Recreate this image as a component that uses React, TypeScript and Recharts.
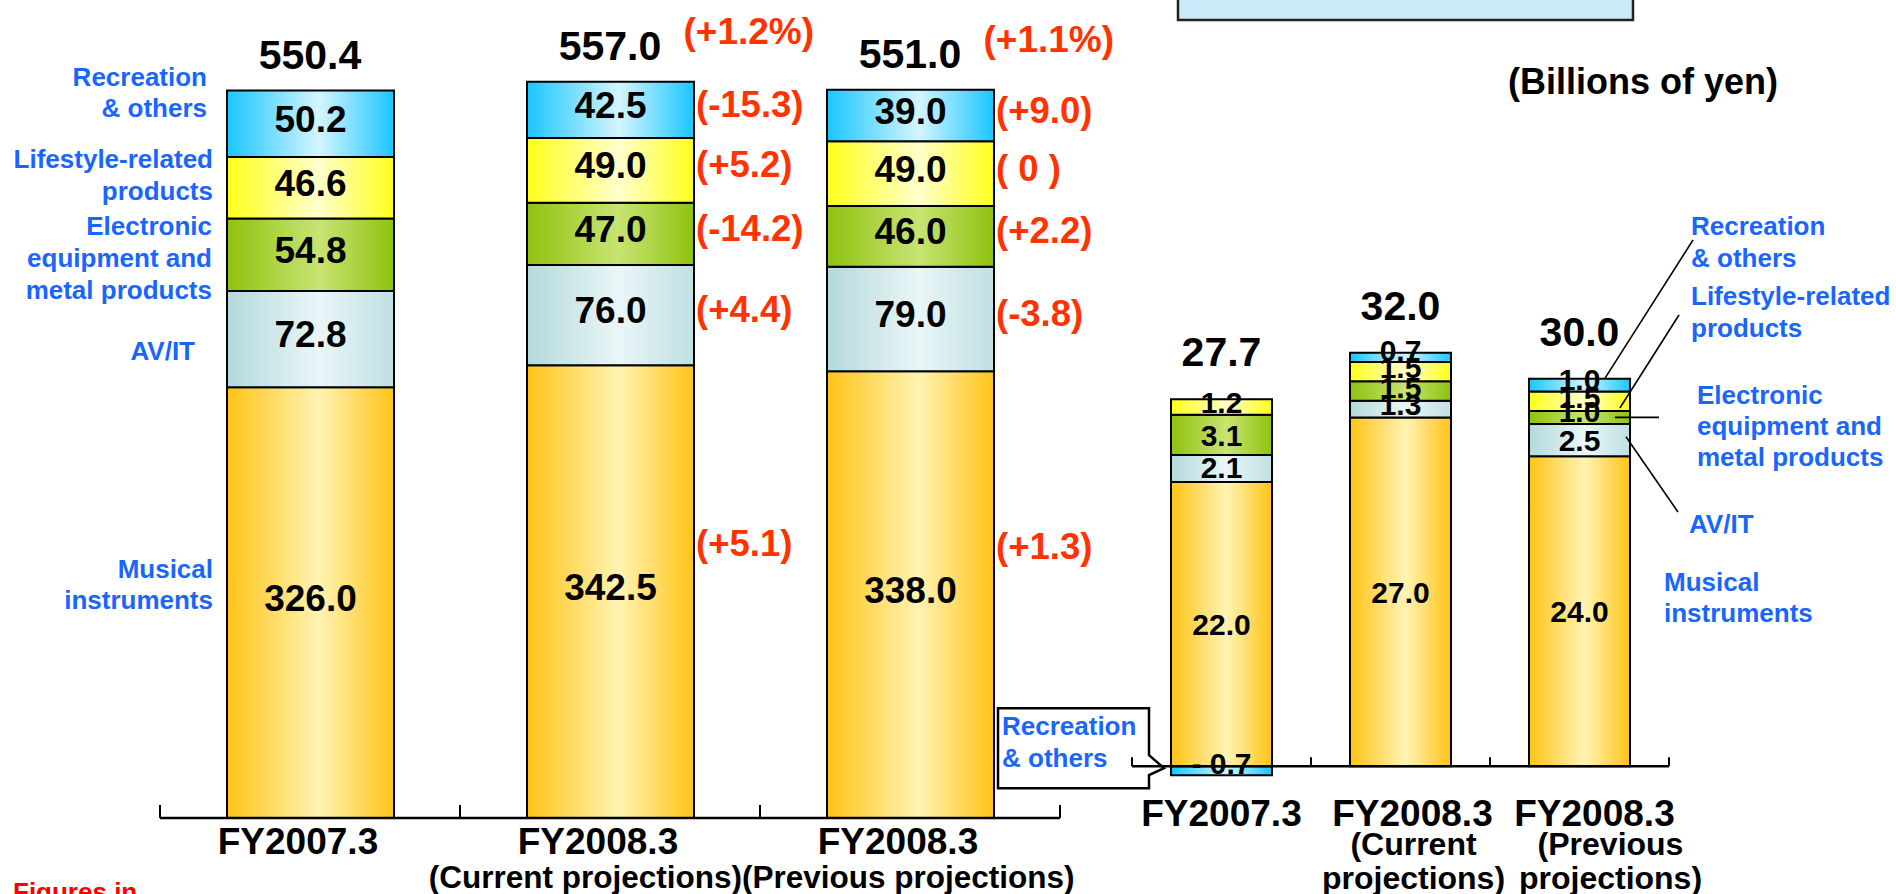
import React from "react";
import { ComposedChart, Bar, Line, XAxis, YAxis, LabelList, ReferenceLine } from "recharts";

// ---- Net sales by segment (left chart), billions of yen ----
const salesCategories = ["FY2007.3", "FY2008.3", "FY2008.3"];
const salesSubLabels = ["", "(Current projections)", "(Previous projections)"];
const salesMusical = [326.0, 342.5, 338.0];
const salesAvIt = [72.8, 76.0, 79.0];
const salesElectronic = [54.8, 47.0, 46.0];
const salesLifestyle = [46.6, 49.0, 49.0];
const salesRecreation = [50.2, 42.5, 39.0];
const salesTotal = [550.4, 557.0, 551.0];
const salesTotalChange = ["", "(+1.2%)", "(+1.1%)"];
const changeMusical = ["", "(+5.1)", "(+1.3)"];
const changeAvIt = ["", "(+4.4)", "(-3.8)"];
const changeElectronic = ["", "(-14.2)", "(+2.2)"];
const changeLifestyle = ["", "(+5.2)", "( 0 )"];
const changeRecreation = ["", "(-15.3)", "(+9.0)"];

// ---- Operating income by segment (right chart) ----
const incomeCategories = ["FY2007.3", "FY2008.3", "FY2008.3"];
const incomeSubLine1 = ["", "(Current", "(Previous"];
const incomeSubLine2 = ["", "projections)", "projections)"];
const incomeMusical = [22.0, 27.0, 24.0];
const incomeAvIt = [2.1, 1.3, 2.5];
const incomeElectronic = [3.1, 1.5, 1.0];
const incomeLifestyle = [1.2, 1.5, 1.5];
const incomeRecreation = [-0.7, 0.7, 1.0];
const incomeTotal = [27.7, 32.0, 30.0];

const FONT = "'Liberation Sans', Arial, Helvetica, sans-serif";
const BLUE = "#1966ff";
const RED = "#ff3300";

const SERIES = [
  { key: "musical", chg: "chgMusical", stops: ["#ffc415", "#fff3b4", "#ffc415"] },
  { key: "avit", chg: "chgAvIt", stops: ["#b3d9dc", "#eaf6f7", "#bfe0e3"] },
  { key: "electronic", chg: "chgElectronic", stops: ["#8fc20e", "#c8e473", "#8fc20e"] },
  { key: "lifestyle", chg: "chgLifestyle", stops: ["#ffff1a", "#ffffcc", "#ffff1a"] },
  { key: "recreation", chg: "chgRecreation", stops: ["#19c6ff", "#d4f5ff", "#19c6ff"] },
];

const salesData = salesCategories.map((name, i) => ({
  idx: i,
  name,
  musical: salesMusical[i],
  avit: salesAvIt[i],
  electronic: salesElectronic[i],
  lifestyle: salesLifestyle[i],
  recreation: salesRecreation[i],
  total: salesTotal[i],
  totalChange: salesTotalChange[i],
  chgMusical: changeMusical[i],
  chgAvIt: changeAvIt[i],
  chgElectronic: changeElectronic[i],
  chgLifestyle: changeLifestyle[i],
  chgRecreation: changeRecreation[i],
}));

const incomeData = incomeCategories.map((name, i) => {
  const parts = [incomeMusical[i], incomeAvIt[i], incomeElectronic[i], incomeLifestyle[i], incomeRecreation[i]];
  return {
    idx: i,
    name,
    musical: incomeMusical[i],
    avit: incomeAvIt[i],
    electronic: incomeElectronic[i],
    lifestyle: incomeLifestyle[i],
    recreation: incomeRecreation[i],
    total: incomeTotal[i],
    stackTop: parts.filter((v) => v > 0).reduce((a, b) => a + b, 0),
    annotate: i === incomeCategories.length - 1,
    callout: incomeRecreation[i] < 0,
  };
});

// layout
const L = { width: 1130, height: 894, margin: { top: 25, right: 70, bottom: 36, left: 160 }, axisH: 40, bar: 167 };
const L_AXIS_Y = L.height - L.margin.bottom - L.axisH;
const L_BAND = (L.width - L.margin.left - L.margin.right) / salesCategories.length;

const R = { left: 960, width: 936, height: 894, margin: { top: 327, right: 227, bottom: 62, left: 172 }, axisH: 40, bar: 101, domain: [-2, 34] };
const R_PLOT_H = R.height - R.margin.top - R.margin.bottom - R.axisH;
const R_ZERO = R.margin.top + (R_PLOT_H * R.domain[1]) / (R.domain[1] - R.domain[0]);
const R_BAND = (R.width - R.margin.left - R.margin.right) / incomeCategories.length;
const rightLabelShift = [0, 12, 15];
const rightSubShift = [0, 13, 31];

const box = (p: any) => {
  const vb = p.viewBox || {};
  const x = Number(vb.x ?? p.x);
  const y = Number(vb.y ?? p.y);
  const w = Number(vb.width ?? p.width ?? 0);
  const h = Number(vb.height ?? p.height ?? 0);
  return { x, y: h < 0 ? y + h : y, w, h: Math.abs(h) };
};

const txt = (size: number, fill = "#000") => ({ fontFamily: FONT, fontWeight: 700, fontSize: size, fill });

const gradients = (prefix: string) => (
  <defs>
    {SERIES.map((s) => (
      <linearGradient key={s.key} id={`${prefix}-${s.key}`} x1="0" y1="0" x2="1" y2="0">
        <stop offset="0%" stopColor={s.stops[0]} />
        <stop offset="55%" stopColor={s.stops[1]} />
        <stop offset="100%" stopColor={s.stops[2]} />
      </linearGradient>
    ))}
  </defs>
);

// ---- left chart label renderers ----
const salesValueLabel = (p: any) => {
  const b = box(p);
  return (
    <text x={b.x + b.w / 2} y={b.y + b.h / 2 + 8} textAnchor="middle" {...txt(37)}>
      {Number(p.value).toFixed(1)}
    </text>
  );
};

const salesChangeLabel = (lift: number) => (p: any) => {
  if (!p.value) return null;
  const b = box(p);
  return (
    <text x={b.x + b.w + 2} y={b.y + b.h / 2 + lift} {...txt(36.5, RED)}>
      {p.value}
    </text>
  );
};

const salesTotalLabel = (p: any) => {
  const b = box(p);
  return (
    <text x={b.x} y={b.y - 22} textAnchor="middle" {...txt(41)}>
      {Number(p.value).toFixed(1)}
    </text>
  );
};

const salesTotalChangeLabel = (p: any) => {
  if (!p.value) return null;
  const b = box(p);
  return (
    <text x={b.x + L.bar / 2 - 10} y={b.y - 38} {...txt(37, RED)}>
      {p.value}
    </text>
  );
};

const salesTick = (p: any) => {
  const i = Number(p.payload.value);
  const x = Number(p.x);
  const half = L_BAND / 2;
  const last = i === salesCategories.length - 1;
  return (
    <g>
      <line x1={x - half} y1={L_AXIS_Y - 13} x2={x - half} y2={L_AXIS_Y} stroke="#000" strokeWidth={2} />
      {last && <line x1={x + half} y1={L_AXIS_Y - 13} x2={x + half} y2={L_AXIS_Y} stroke="#000" strokeWidth={2} />}
      <text x={x - 12} y={L_AXIS_Y + 36} textAnchor="middle" {...txt(37)}>
        {salesCategories[i]}
      </text>
      {i === 1 && (
        <text x={x + half - 18} y={L_AXIS_Y + 70} textAnchor="end" {...txt(31.5)}>
          {salesSubLabels[i]}
        </text>
      )}
      {i === 2 && (
        <text x={x - half - 18} y={L_AXIS_Y + 70} textAnchor="start" {...txt(31.5)}>
          {salesSubLabels[i]}
        </text>
      )}
    </g>
  );
};

// ---- right chart label renderers ----
const incomeValueLabel = (p: any) => {
  const b = box(p);
  const v = Number(p.value);
  const t = v < 0 ? `- ${Math.abs(v).toFixed(1)}` : v.toFixed(1);
  return (
    <text x={b.x + b.w / 2} y={b.y + b.h / 2 + Math.min(11, b.h * 0.35)} textAnchor="middle" {...txt(30)}>
      {t}
    </text>
  );
};

const incomeTotalLabel = (p: any) => {
  const b = box(p);
  return (
    <text x={b.x} y={b.y - 33} textAnchor="middle" {...txt(41)}>
      {Number(p.value).toFixed(1)}
    </text>
  );
};

// leader lines from the last bar's segments to the names on the right
const leaderEnds: Record<string, [number, number]> = {
  recreation: [1693, 240],
  lifestyle: [1679, 315],
  electronic: [1659, 0],
  avit: [1678, 512],
};

const leaderLine = (key: string) => (p: any) => {
  if (!p.value) return null;
  const b = box(p);
  const [ex, ey] = leaderEnds[key];
  let sx = b.x + b.w * 0.75;
  let sy = b.y;
  if (key === "lifestyle") {
    sx = b.x + b.w * 0.9;
    sy = b.y + b.h * 0.85;
  } else if (key === "electronic") {
    sx = b.x + b.w - 15;
    sy = b.y + b.h / 2;
  } else if (key === "avit") {
    sx = b.x + b.w - 4;
    sy = b.y + b.h * 0.4;
  }
  return <line x1={sx} y1={sy} x2={ex - R.left} y2={key === "electronic" ? sy : ey} stroke="#000" strokeWidth={1.6} />;
};

const calloutLabel = (p: any) => {
  if (!p.value) return null;
  const b = box(p);
  const tx = b.x - 7;
  const ty = R_ZERO + 2;
  const d = `M${tx - 15},${ty - 13} L${tx},${ty} L${tx - 15},${ty + 7} L${tx - 15},${ty + 20} L${tx - 166},${ty + 20} L${tx - 166},${ty - 60} L${tx - 15},${ty - 60} Z`;
  return (
    <g>
      <path d={d} fill="none" stroke="#000" strokeWidth={2.5} />
      <text x={tx - 162} y={ty - 33} {...txt(26, BLUE)}>
        Recreation
      </text>
      <text x={tx - 162} y={ty - 1} {...txt(26, BLUE)}>
        & others
      </text>
    </g>
  );
};

const incomeTick = (p: any) => {
  const i = Number(p.payload.value);
  const x = Number(p.x);
  const half = R_BAND / 2;
  const last = i === incomeCategories.length - 1;
  return (
    <g>
      <line x1={x - half} y1={R_ZERO - 9} x2={x - half} y2={R_ZERO} stroke="#000" strokeWidth={2} />
      {last && <line x1={x + half} y1={R_ZERO - 9} x2={x + half} y2={R_ZERO} stroke="#000" strokeWidth={2} />}
      <text x={x + rightLabelShift[i]} y={R_ZERO + 60} textAnchor="middle" {...txt(37)}>
        {incomeCategories[i]}
      </text>
      <text x={x + rightSubShift[i]} y={R_ZERO + 89} textAnchor="middle" {...txt(32)}>
        {incomeSubLine1[i]}
      </text>
      <text x={x + rightSubShift[i]} y={R_ZERO + 123} textAnchor="middle" {...txt(32)}>
        {incomeSubLine2[i]}
      </text>
    </g>
  );
};

const leftNames: [string, number, number][] = [
  ["Recreation", 207, 86],
  ["& others", 207, 117],
  ["Lifestyle-related", 213, 168],
  ["products", 213, 200],
  ["Electronic", 212, 235],
  ["equipment and", 212, 267],
  ["metal products", 212, 299],
  ["AV/IT", 195, 360],
  ["Musical", 213, 578],
  ["instruments", 213, 609],
];

const rightNames: [string, number, number][] = [
  ["Recreation", 1691, 235],
  ["& others", 1691, 267],
  ["Lifestyle-related", 1691, 305],
  ["products", 1691, 337],
  ["Electronic", 1697, 404],
  ["equipment and", 1697, 435],
  ["metal products", 1697, 466],
  ["AV/IT", 1689, 533],
  ["Musical", 1664, 591],
  ["instruments", 1664, 622],
];

export default function App() {
  return (
    <div style={{ position: "absolute", left: 0, top: 0, width: 1896, height: 894, overflow: "hidden", background: "#fff" }}>
      <div style={{ position: "absolute", left: 0, top: 0 }}>
        <ComposedChart width={L.width} height={L.height} data={salesData} margin={L.margin} stackOffset="sign">
          {gradients("L")}
          <XAxis
            dataKey="idx"
            type="category"
            height={L.axisH}
            interval={0}
            axisLine={{ stroke: "#000", strokeWidth: 2.5 }}
            tickLine={false}
            tick={salesTick}
          />
          <YAxis hide type="number" domain={[0, 600]} />
          {SERIES.map((s) => (
            <Bar
              key={s.key}
              dataKey={s.key}
              stackId="sales"
              fill={`url(#L-${s.key})`}
              stroke="#000"
              strokeWidth={2}
              barSize={L.bar}
              isAnimationActive={false}
            >
              <LabelList dataKey={s.key} content={salesValueLabel} />
              <LabelList dataKey={s.chg} content={salesChangeLabel(s.key === "musical" ? -36 : 7)} />
            </Bar>
          ))}
          <Line dataKey="total" stroke="none" dot={false} activeDot={false} legendType="none" isAnimationActive={false}>
            <LabelList dataKey="total" content={salesTotalLabel} />
            <LabelList dataKey="totalChange" content={salesTotalChangeLabel} />
          </Line>
        </ComposedChart>
      </div>

      <div style={{ position: "absolute", left: R.left, top: 0 }}>
        <ComposedChart width={R.width} height={R.height} data={incomeData} margin={R.margin} stackOffset="sign">
          {gradients("R")}
          <XAxis dataKey="idx" type="category" height={R.axisH} interval={0} axisLine={false} tickLine={false} tick={incomeTick} />
          <YAxis hide type="number" domain={R.domain} />
          <ReferenceLine y={0} stroke="#000" strokeWidth={2.5} />
          {SERIES.map((s) => (
            <Bar
              key={s.key}
              dataKey={s.key}
              stackId="income"
              fill={`url(#R-${s.key})`}
              stroke="#000"
              strokeWidth={2}
              barSize={R.bar}
              isAnimationActive={false}
            >
              <LabelList dataKey={s.key} content={incomeValueLabel} />
              {s.key !== "musical" && <LabelList dataKey="annotate" content={leaderLine(s.key)} />}
              {s.key === "recreation" && <LabelList dataKey="callout" content={calloutLabel} />}
            </Bar>
          ))}
          <Line dataKey="stackTop" stroke="none" dot={false} activeDot={false} legendType="none" isAnimationActive={false}>
            <LabelList dataKey="total" content={incomeTotalLabel} />
          </Line>
        </ComposedChart>
      </div>

      <svg width={1896} height={894} style={{ position: "absolute", left: 0, top: 0, pointerEvents: "none" }}>
        <rect x={1178} y={-10} width={455} height={30} fill="#cce9fa" stroke="#222" strokeWidth={2.5} />
        <text x={1508} y={94} {...txt(36)}>
          (Billions of yen)
        </text>
        <text x={13} y={901} {...txt(26, "#ff0000")}>
          Figures in
        </text>
        {leftNames.map(([t, x, y]) => (
          <text key={`l-${t}`} x={x} y={y} textAnchor="end" {...txt(26, BLUE)}>
            {t}
          </text>
        ))}
        {rightNames.map(([t, x, y]) => (
          <text key={`r-${t}`} x={x} y={y} {...txt(26, BLUE)}>
            {t}
          </text>
        ))}
      </svg>
    </div>
  );
}
